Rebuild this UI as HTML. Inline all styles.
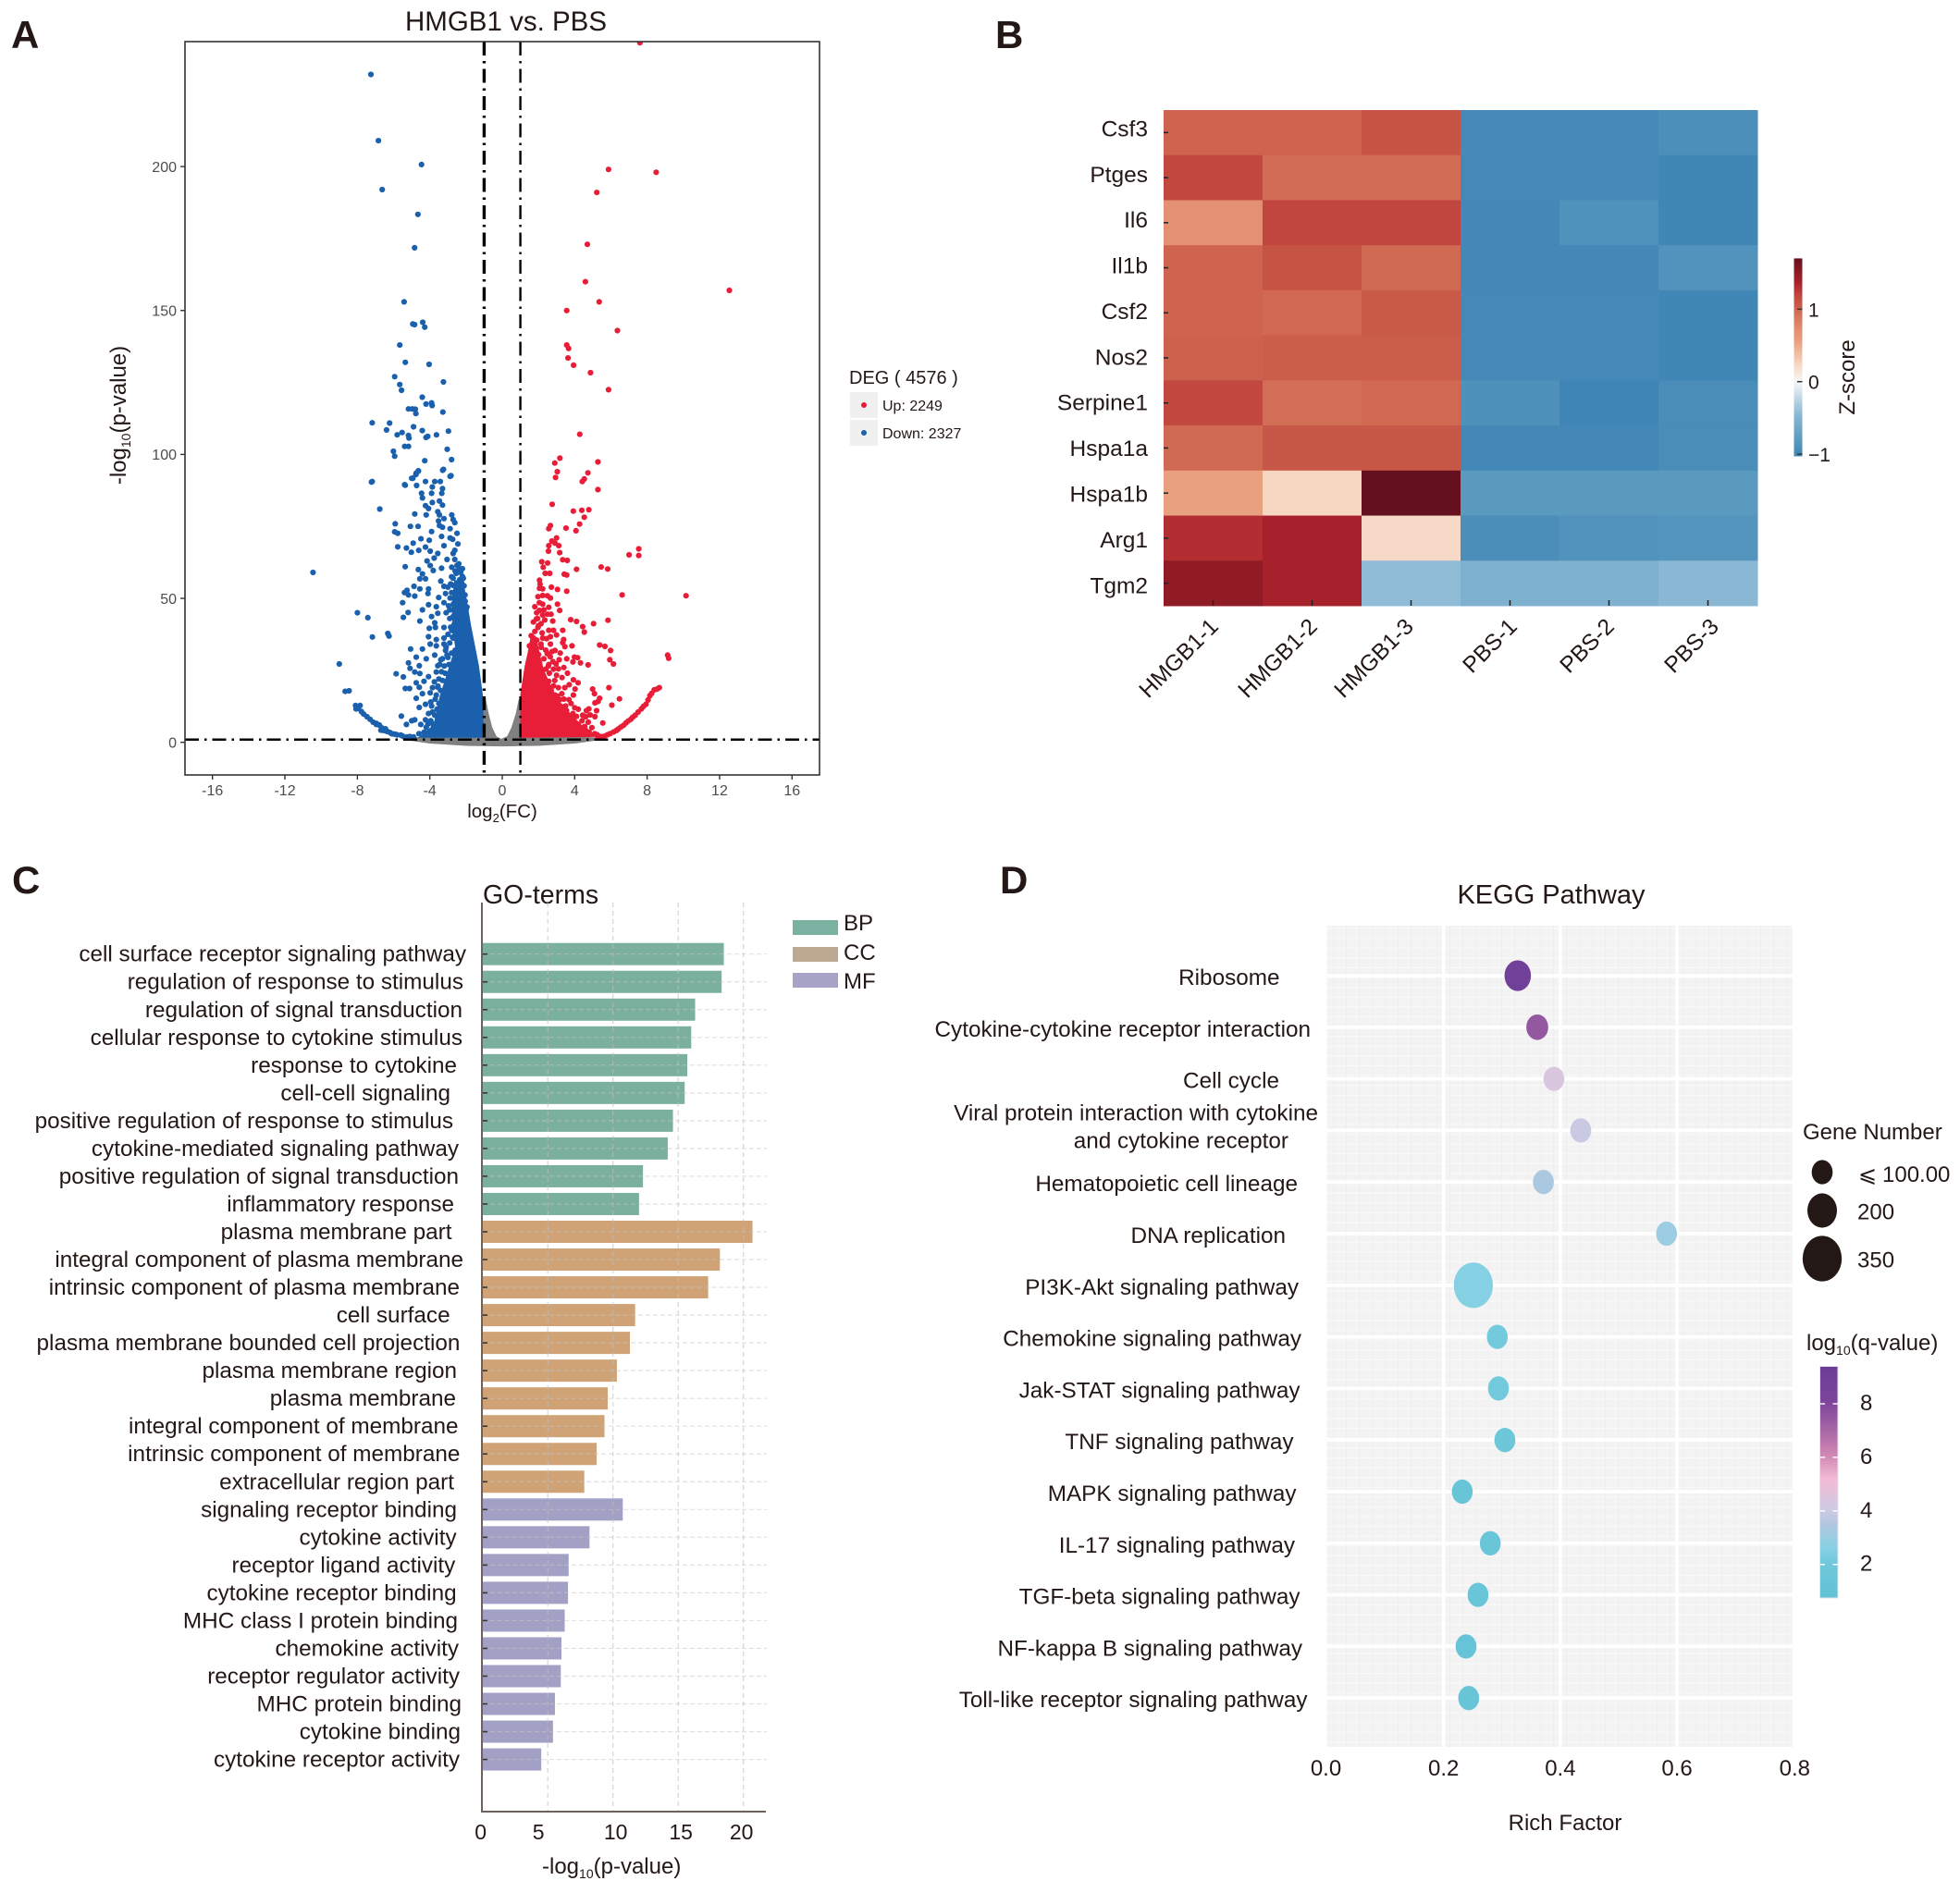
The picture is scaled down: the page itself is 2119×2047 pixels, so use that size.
<!DOCTYPE html>
<html><head><meta charset="utf-8"><title>Four panel figure</title>
<style>
html,body{margin:0;padding:0;background:#fff;width:2119px;height:2047px;overflow:hidden}
svg{display:block}
text{font-family:"Liberation Sans","DejaVu Sans",sans-serif;fill:#231815}
</style></head>
<body>
<svg id="fig" xmlns="http://www.w3.org/2000/svg" width="2119" height="2047" viewBox="0 0 2119 2047">
<defs><clipPath id="volClip"><rect x="200" y="45" width="686" height="793"/></clipPath></defs>
<text x="12" y="52" font-size="42" font-weight="bold">A</text>
<text x="1076" y="52" font-size="42" font-weight="bold">B</text>
<text x="13" y="966" font-size="42" font-weight="bold">C</text>
<text x="1081" y="966" font-size="42" font-weight="bold">D</text>

<g id="panelA">
<text x="547" y="33" font-size="29.5" text-anchor="middle">HMGB1 vs. PBS</text>
<g id="volMarks" clip-path="url(#volClip)"></g>
<rect x="200" y="45" width="686" height="793" fill="none" stroke="#333" stroke-width="1.6"/>
<g id="volAxes"></g>
<text x="543" y="884" font-size="20.5" text-anchor="middle">log<tspan font-size="13" dy="5">2</tspan><tspan dy="-5">(FC)</tspan></text>
<text transform="translate(136,449) rotate(-90)" font-size="24" text-anchor="middle">-log<tspan font-size="14" dy="5">10</tspan><tspan dy="-5">(p-value)</tspan></text>
<text x="918" y="415" font-size="20">DEG ( 4576 )</text>
<rect x="919" y="424" width="30" height="28" fill="#f0f0f0"/>
<rect x="919" y="454" width="30" height="28" fill="#f0f0f0"/>
<circle cx="934" cy="438" r="3" fill="#e81e39"/>
<circle cx="934" cy="468" r="3" fill="#1a60ad"/>
<text x="954" y="444" font-size="16">Up: 2249</text>
<text x="954" y="474" font-size="16">Down: 2327</text>
</g>

<g id="panelB">
<g id="heatCells"></g>
<g id="heatAxes"></g>
<g id="heatBar"></g>
<text transform="translate(2005,408) rotate(-90)" font-size="24" text-anchor="middle">Z-score</text>
</g>

<g id="panelC">
<text x="522" y="977" font-size="28.5">GO-terms</text>
<g id="goBars"></g>
<g id="goGrid"></g>
<g id="goAxes"></g>
<text x="586" y="2026" font-size="24">-log<tspan font-size="14" dy="5">10</tspan><tspan dy="-5">(p-value)</tspan></text>
<rect x="857" y="995" width="49" height="16" fill="#7bb1a0"/>
<rect x="857" y="1024" width="49" height="16" fill="#bda892"/>
<rect x="857" y="1052" width="49" height="16" fill="#a6a3c7"/>
<text x="912" y="1006" font-size="24">BP</text>
<text x="912" y="1038" font-size="24">CC</text>
<text x="912" y="1069" font-size="24">MF</text>
</g>

<g id="panelD">
<text x="1677" y="977" font-size="29" text-anchor="middle">KEGG Pathway</text>
<g id="keggGrid"></g>
<g id="keggMarks"></g>
<g id="keggAxes"></g>
<text x="1692" y="1979" font-size="24" text-anchor="middle">Rich Factor</text>
<text x="1949" y="1232" font-size="24">Gene Number</text>
<g id="keggSize"></g>
<text x="1953" y="1460" font-size="24">log<tspan font-size="14" dy="5">10</tspan><tspan dy="-5">(q-value)</tspan></text>
<g id="keggBar"></g>
</g>
</svg>

<script>
/* ---------- Panel A data: [log2FC, -log10 p] ---------- */
const volXTicks=[-16,-12,-8,-4,0,4,8,12,16];
const volYTicks=[0,50,100,150,200];
const fcThresholds=[-1,1];
const pThreshold=[0.95];
const grayEnvelope=[[-5.5,1.3],[-3,1.9],[-1.15,1.9],[-1.15,14.8],[-0.95,14.6],[-0.8,10],[-0.6,5],[-0.35,1.8],[-0.05,0.9],[0.3,1.8],[0.55,5],[0.8,10],[0.95,14.6],[1.05,14.8],[1.05,1.9],[3,1.9],[5.6,1.3],[4,-0.1],[2,-0.9],[0,-1.1],[-2,-0.9],[-4,-0.1]];
const downEnvelope=[[-1.1,1.9],[-1.09,14.8],[-1.34,26.6],[-1.77,40.5],[-2.03,50.1],[-2.2,56],[-2.6,56],[-2.75,48],[-2.7,40],[-2.55,33],[-3.0,24],[-3.4,16],[-3.75,6],[-4.5,1.9]];
const upEnvelope=[[1.05,1.9],[1.05,16.9],[1.29,26.6],[1.45,31],[1.6,36],[1.85,36],[2.05,30],[2.25,25],[2.75,18],[3.25,13],[3.85,9],[4.45,5.2],[5,2.2]];
const downPoints=[[-7.25,232],[-6.84,209],[-4.46,200.7],[-6.63,192],[-4.66,183.4],[-4.84,171.8],[-5.42,153],[-4.94,145.3],[-4.84,145.1],[-4.39,145.9],[-4.28,144.2],[-5.66,138],[-5.35,132],[-4.04,131.3],[-5.94,127],[-5.66,124.3],[-5.56,122.3],[-3.25,125.2],[-4.42,119.9],[-4.21,117.5],[-3.9,117.9],[-3.87,117],[-5.18,115.8],[-4.97,115.8],[-4.8,115.7],[-4.77,114.2],[-3.28,114.7],[-7.18,111],[-6.22,110.9],[-6.39,108.5],[-4.9,109.6],[-4.42,108.3],[-2.97,108.1],[-3.63,106.8],[-4.21,105.9],[-4.11,106.3],[-5.8,106.8],[-5.53,107.6],[-5.18,106.6],[-5.15,105.7],[-5.39,102.8],[-5.18,102.8],[-6.01,101.1],[-5.94,99.4],[-3.04,101.8],[-2.8,98.2],[-4.28,97.8],[-3.25,94.8],[-4.63,94.3],[-4.77,93],[-2.83,92.6],[-4.94,91.7],[-7.18,90.6],[-5.39,89.5],
[-7.22,90.4],[-6.76,81],[-10.45,59],[-8.0,45],[-7.42,43.3],[-7.17,36.6],[-6.32,37.8],[-6.25,36.9],[-9.0,27.2],[-8.67,17.7],[-8.46,17.9],[-8.1,12.8],[-7.85,12.8],[-8.07,11.6],[-7.78,10.7],[-7.47,8.9],[-7.13,7],[-6.79,6],[-6.54,4.1],[-6.11,3],[-5.6,2.5],[-5.26,1.9],[-5.57,9.1],[-5.29,6.2],[-5.0,7.5],[-4.83,7.8],[-5.86,23.8],[-5.46,22.7],
[-5.36,89.3],[-5.0,91.7],[-4.75,93.5],[-4.63,94.2],[-4.73,89.2],[-4.24,90.6],[-3.73,90.6],[-3.42,90.6],[-3.29,94.5],[-2.88,92.4],[-4.46,86.5],[-4.41,84.9],[-3.9,86.5],[-3.86,88.7],[-3.3,88.1],[-3.34,86.5],[-4.24,82.2],[-4.07,81.2],[-3.86,83.3],[-3.47,83.8],[-3.3,82.4],[-4.83,79.3],[-4.2,79],[-3.56,80.1],[-3.47,79],[-2.79,79],[-2.71,77.4],[-2.62,76.3],[-3.22,77.7],[-3.52,76.9],[-3.47,75.3],[-5.91,75.9],[-5.94,73.1],[-5.77,72.6],[-5.07,75],[-4.65,75],[-3.9,73.2],[-3.3,74.7],[-2.88,74.2],[-2.5,72.6],[-3.35,71.5],[-2.88,71],[-2.74,70.5],[-4.92,69.2],[-4.49,70.7],[-4.03,70.2],[-5.77,67.9],[-5.29,67.5],[-5.02,66],[-4.61,66.7],[-4.24,67.8],[-3.98,66.4],[-3.56,65.6],[-3.76,64],[-3.22,68.3],[-2.45,68.9],[-2.62,66.7],[-2.71,65.6],[-3.05,63.5],[-2.62,63.5],[-4.15,63],[-3.98,61.4],[-3.81,59.7],[-5.36,61],[-4.63,60],[-3.35,60.5],[-2.79,60.8],[-2.37,60.3],[-2.2,60.3],[-2.54,58.7],[-2.71,57],[-2.2,57.6],[-2.45,54.9],[-2.11,54.4],[-4.41,58.5],[-4.55,56.8],[-4.24,56.8],[-3.39,56],[-5.26,52.8],[-4.87,54.2],[-4.55,53.3],[-4.07,53.3],[-5.4,52],[-5.18,51.2],[-4.83,50.8],[-4.1,51.7],[-3.22,54.2],[-3,53.9],[-2.06,51.2],[-3.51,50.3],[-3.13,51.7],[-2.88,50.1],[-5.5,48.5],[-5.2,45.1],[-5.46,43.4],[-4.07,47.8],[-4.41,46],[-3.64,47.1],[-3.22,48.5],[-2.96,47.4],[-4.55,42.1],[-3.9,43.7],[-3.56,44.8],[-2.62,45.8],[-2.71,43.7],[-3.73,41.5],[-4.03,39.6],[-3.69,39.9],[-3.22,39.9],[-2.79,38.9],[-3.22,36.2],[-3.64,35.7],[-4.07,36.7],[-3.98,34.1],[-3.64,33.5],[-3.22,34.1],[-3.13,31.9],[-3.05,30.3],[-2.71,36.2],[-2.45,34.1],[-5.06,32.4],[-4.41,32.4],[-3.73,30.3],[-4.2,29],[-4.75,29.6],[-5.18,27.6],[-5.09,25.7],[-4.58,26.6],[-4.83,24.4],[-4.55,23.9],[-3.39,28.7],[-3.56,26.6],[-3.64,24.4],[-4.07,22.8],[-4.32,21.2],[-4.75,20.7],[-5.35,18.7],[-5.12,18.7],[-4.58,19.1],[-4.41,16.9],[-4.75,15.3],[-3.98,17.2],[-3.56,19.1],[-3.64,16.4],[-4.58,12.1],[-4.24,13.2],[-3.9,12.6],[-4.07,10],[-4.5,6.2],[-4.24,7.8],[-3.73,9.4],[-3.81,6.2],[-4.32,3.5],[-3.9,4.1],[-3.47,6.2],[-6.95,6.2],[-6.35,3.8],[-5.9,2.8],
[-2.1,48],[-2.3,47],[-2.5,49],[-2.7,48],[-2.9,46],[-2.6,51],[-2.4,53],[-2.2,52],[-2.0,46],[-2.8,52],[-2.5,44],[-2.3,43],[-2.9,43],[-3.1,45],[-2.65,41],[-2.85,40],[-3.0,37.5],[-2.6,38],[-2.75,36.5],[-2.9,34.5],[-3.1,33],[-2.6,32],[-2.8,31],[-3.0,29.5],[-3.3,29],[-3.45,27],[-3.2,26.5],[-2.95,27],[-3.15,24],[-3.35,24.5],[-3.5,22],[-3.75,21],[-3.3,21.5],[-3.55,19.5],[-3.85,19],[-3.4,18],[-3.7,15],[-3.95,14],[-3.5,13.5],[-3.25,14.5],[-3.6,11.5],[-3.85,10.5],[-3.35,10],[-3.55,8.5],[-3.95,7.5],[-4.1,6.3],[-3.7,5.5],[-4.05,3],[-4.6,3],[-4.2,5.2],[-3.65,3.2],[-2.25,55.5],[-2.35,56.5],[-2.55,52.5],[-2.7,54.5],[-2.05,49],[-1.95,47],[-2.15,57],[-2.4,62],[-2.6,59.5],[-2.3,59],[-2.5,61.5],[-2.8,57.5],[-2.85,55],
[-7.95,11.8],[-7.65,9.8],[-7.3,8],[-6.95,6.6],[-6.65,5],[-6.4,3.9],[-6.2,3.4],[-6,2.9],[-5.8,2.6],[-5.5,2.2],[-5.1,2],[-4.9,1.9],[-6.7,4.2],[-6.45,4.7]];
const upPoints=[[7.6,243],[5.87,199],[8.5,198],[5.22,191],[4.7,173],[4.59,160],[12.54,157],[5.35,153],[3.56,150],[6.36,143],[3.56,138],[3.66,136.8],[3.63,133.5],[3.94,131],[4.87,128.4],[5.87,122.5],[4.28,107],[3.18,98.7],[2.9,97],[5.28,97.4],[3.04,94],[2.94,92],[4.73,93.6],[4.53,91.5],[4.42,90.6],[5.28,87.8],[2.76,82.7],[3.92,80.3],[4.39,80.6],[4.78,80.8],[4.53,78.2],[4.27,75.8],[4.07,73.5],[3.52,74.4],[2.66,75.3],[2.57,74.2],[3,71],[2.74,69.9],[2.91,69.2],[3.12,68.3],[2.57,68.3],[2.55,66.4],[3.17,65.9],[3.34,63.4],[3.59,63.2],[2.18,62.7],[2.5,62.3],[2.26,60.8],[4.1,60.1],[2.37,58.7],[2.62,58.7],[3.42,58.4],[3.56,58.1],[7.54,67.2],[7,65.1],[7.54,64.9],[5.46,60.9],[5.82,60.2],[6.62,51.2],[10.15,50.9],[2.06,56.3],[2.09,54.9],[2.06,53.5],[2.23,53.3],[2.71,53.9],[3.05,53.1],[3.56,52.5],[1.97,50.6],[2.23,51],[2.49,50.9],[2.66,50.1],[2.23,48],[1.8,47.1],[2.57,46.9],[3.05,48],[3.17,45.8],[2.06,45.8],[2.23,44.2],[2.69,44.5],[1.89,42.9],[1.72,41.8],[2.14,41.2],[2.79,42.1],[3.78,42.6],[4.1,42],[5.04,41.2],[5.84,42.4],[4.44,40.2],[4.53,38.3],[1.97,39.9],[2.57,38.9],[2.83,38.9],[3.34,38.9],[3.39,35.7],[3.34,34.6],[1.72,36.2],[2.23,36.2],[2.66,36.7],[3,37.3],[1.72,34.1],[2.14,34.1],[2.66,34.1],[2.91,31.9],[3.46,33.2],[3.85,33.5],[5.38,33.8],[5.67,33.3],[5.98,31.9],[5.94,28.7],[6.14,27.2],[9.13,30.3],[9.19,29.2],[3.99,29.6],[4.16,29.4],[3.56,29],[3.14,28.7],[2.97,27.2],[3.9,27.9],[4.32,27.6],[4.74,26.9],[2.48,30.8],[2.65,29.7],[2.06,27.6],[2.57,27],[2.4,25.4],[2.83,25.4],[3,23.3],[2.26,23.3],[3.93,21.7],[4.19,20.7],[4.02,18.5],[3.93,16.4],[3.68,14.8],[3.29,16.9],[2.91,16.4],[3.17,14.8],[2.57,21.2],[2.83,19.6],[5.89,19],[4.99,18.5],[5.09,16.9],[5.38,15.3],[5.29,14.2],[5.12,13.7],[6.47,15.1],[6.05,12.9],[4.78,11.6],[5.21,11],[5.12,8.9],[4.44,9.4],[4.61,8.9],[4.95,5.1],[5.55,6.7],[4.61,4.1],[4,12],[3.5,12.6],[3.93,8.4],[4.19,6.2],[3.76,4.1],[8.67,19],[8.39,18.2],[8.15,16.2],[7.93,13.2],[7.68,11.6],[7.34,9.4],[7.1,8],[6.83,6.7],[6.55,5.3],[6.3,4.1],[5.95,3],[5.63,2.1],[5.3,1.8],
[2.3,46],[2.05,48.5],[1.9,45],[2.35,42.5],[2.0,40.5],[1.8,38.5],[2.2,38],[1.6,37],[2.45,36],[1.9,35.5],[2.15,33],[1.5,33.5],[2.4,32],[1.7,31],[2.0,30.5],[2.75,31.5],[3.2,31],[2.3,29],[2.8,28],[1.8,28.5],[2.1,25],[3.1,25.5],[3.4,26],[2.6,24],[2.35,22],[2.9,21.5],[3.3,22.5],[3.6,24],[2.7,18],[3.1,19],[3.45,19],[3.7,20],[3.05,16],[3.4,15],[3.8,13.5],[3.55,11],[4.2,11.5],[4.65,11],[4.85,9.5],[4.1,9],[3.9,10],[4.4,7.5],[4.75,7],[4.55,5.5],[4.8,3.5],[5.1,3],[4.3,4],[5.25,2.6],[2.95,14],[3.25,12.5],[3.75,7],[4.0,5.5],[3.35,10.5],[2.55,26.5],[1.95,43],[2.5,44.5],
[8.55,18.5],[8.25,17],[8.05,14.7],[7.8,12.5],[7.5,10.5],[7.2,8.7],[6.95,7.4],[6.7,5.9],[6.4,4.6],[6.15,3.6],[5.8,2.6],[5.45,2]];

/* ---------- Panel B data ---------- */
const heatGenes=["Csf3","Ptges","Il6","Il1b","Csf2","Nos2","Serpine1","Hspa1a","Hspa1b","Arg1","Tgm2"];
const heatSamples=["HMGB1-1","HMGB1-2","HMGB1-3","PBS-1","PBS-2","PBS-3"];
const heatValues=[
[1.0,1.0,1.09,-0.97,-0.97,-0.92],
[1.18,0.96,0.96,-0.99,-0.99,-1.01],
[0.7,1.19,1.19,-1.0,-0.89,-1.01],
[1.0,1.09,0.97,-1.0,-1.0,-0.88],
[1.0,0.98,1.05,-0.99,-0.99,-1.01],
[1.01,1.03,1.03,-0.99,-0.99,-1.01],
[1.17,0.95,0.98,-0.9,-1.03,-0.94],
[0.97,1.07,1.07,-1.0,-1.0,-0.94],
[0.55,0.25,1.7,-0.8,-0.8,-0.8],
[1.3,1.37,0.22,-0.93,-0.88,-0.85],
[1.5,1.38,-0.43,-0.55,-0.55,-0.47]];
const zTicks=[-1,0,1];
const zStops=[-1.03,-0.8,-0.45,0,0.25,0.55,0.7,0.95,1.05,1.2,1.35,1.5,1.7];
const zColors=["#3f85b5","#5a9abf","#8cb9d5","#f7f7f7","#f6d5c1","#e9a07f","#e39073","#d36e56","#c85a47","#bf453e","#ab222d","#901b25","#64101f"];

/* ---------- Panel C data ---------- */
const goTerms=["cell surface receptor signaling pathway","regulation of response to stimulus","regulation of signal transduction","cellular response to cytokine stimulus","response to cytokine","cell-cell signaling","positive regulation of response to stimulus","cytokine-mediated signaling pathway","positive regulation of signal transduction","inflammatory response","plasma membrane part","integral component of plasma membrane","intrinsic component of plasma membrane","cell surface","plasma membrane bounded cell projection","plasma membrane region","plasma membrane","integral component of membrane","intrinsic component of membrane","extracellular region part","signaling receptor binding","cytokine activity","receptor ligand activity","cytokine receptor binding","MHC class I protein binding","chemokine activity","receptor regulator activity","MHC protein binding","cytokine binding","cytokine receptor activity"];
const goValues=[18.5,18.33,16.3,16.0,15.7,15.5,14.6,14.2,12.3,12.0,20.7,18.2,17.3,11.7,11.3,10.3,9.6,9.35,8.75,7.8,10.75,8.2,6.6,6.55,6.3,6.05,6.0,5.55,5.4,4.5];
const goClasses=["BP","BP","BP","BP","BP","BP","BP","BP","BP","BP","CC","CC","CC","CC","CC","CC","CC","CC","CC","CC","MF","MF","MF","MF","MF","MF","MF","MF","MF","MF"];
const goTicks=[0,5,10,15,20];

/* ---------- Panel D data ---------- */
const keggTerms=["Ribosome","Cytokine-cytokine receptor interaction","Cell cycle","Viral protein interaction with cytokine|and cytokine receptor","Hematopoietic cell lineage","DNA replication","PI3K-Akt signaling pathway","Chemokine signaling pathway","Jak-STAT signaling pathway","TNF signaling pathway","MAPK signaling pathway","IL-17 signaling pathway","TGF-beta signaling pathway","NF-kappa B signaling pathway","Toll-like receptor signaling pathway"];
const keggRich=[0.327,0.3605,0.389,0.435,0.371,0.582,0.251,0.292,0.294,0.305,0.232,0.28,0.259,0.2385,0.243];
const keggGenes=[160,110,100,100,100,100,350,100,100,100,100,100,100,100,100];
const keggQ=[8.9,7.4,4.3,3.9,3.3,3.0,2.5,2.1,2.1,1.7,1.3,1.4,1.4,1.2,1.3];
const keggTicks=[0,0.2,0.4,0.6,0.8];
const sizeLegendValues=[100,200,350];
const qTicks=[2,4,6,8];
const qStops=[0.7,2,2.5,3,3.4,4,5.1,6,7,8,9.3];
const qColors=["#62c2d6","#6fc8da","#85d0e3","#9dcde2","#b0c6e0","#cfcae3","#f3bcd4","#d087b4","#a465a5","#7c459b","#6c3e96"];

/* ---------- helpers ---------- */
const NS="http://www.w3.org/2000/svg";
function mk(tag,attrs,parent,txt){
  const e=document.createElementNS(NS,tag);
  for(const k in attrs)e.setAttribute(k,attrs[k]);
  if(txt!==undefined)e.textContent=txt;
  parent.appendChild(e);
  return e;
}
function hex(c){return [1,3,5].map(i=>parseInt(c.substr(i,2),16));}
function colorAt(stops,colors,v){
  if(v<=stops[0])return colors[0];
  for(let i=1;i<stops.length;i++){
    if(v<=stops[i]){
      const t=(v-stops[i-1])/(stops[i]-stops[i-1]);
      const a=hex(colors[i-1]),b=hex(colors[i]);
      return "rgb("+a.map((x,j)=>Math.round(x+(b[j]-x)*t)).join(",")+")";
    }
  }
  return colors[colors.length-1];
}
function gradient(id,stops,colors){
  const defs=document.querySelector("#fig defs");
  const g=mk("linearGradient",{id:id,x1:0,y1:1,x2:0,y2:0},defs);
  const lo=stops[0],hi=stops[stops.length-1];
  stops.forEach((s,i)=>mk("stop",{offset:(s-lo)/(hi-lo),"stop-color":colors[i]},g));
}
const G=id=>document.getElementById(id);

/* ---------- Panel A ---------- */
(function(){
  const X=v=>543+19.58*v, Y=v=>802.7-3.113*v;
  const m=G("volMarks"),ax=G("volAxes");
  const poly=(arr,fill,name)=>{
    const el=mk("polygon",{points:arr.map(p=>X(p[0]).toFixed(1)+","+Y(p[1]).toFixed(1)).join(" "),fill:fill,stroke:fill,"stroke-width":2},m);
    
    
  };
  poly(grayEnvelope,"#808080","not-significant-mass");
  poly(downEnvelope,"#1a60ad","down-regulated-mass");
  poly(upEnvelope,"#e81e39","up-regulated-mass");
  downPoints.forEach(p=>{
    const el=mk("circle",{cx:X(p[0]).toFixed(1),cy:Y(p[1]).toFixed(1),r:3.1,fill:"#1a60ad"},m);
    
    
  });
  upPoints.forEach(p=>{
    const el=mk("circle",{cx:X(p[0]).toFixed(1),cy:Y(p[1]).toFixed(1),r:3.1,fill:"#e81e39"},m);
    
    
  });
  fcThresholds.forEach((v,i)=>{
    const el=mk("line",{x1:X(v),x2:X(v),y1:45,y2:838,stroke:"#000","stroke-width":i==0?3.4:2.4,"stroke-dasharray":"15 6 2.5 6"},m);
    
    
  });
  pThreshold.forEach(v=>{
    const el=mk("line",{x1:200,x2:886,y1:Y(v),y2:Y(v),stroke:"#000","stroke-width":2.4,"stroke-dasharray":"15 6 2.5 6"},m);
    
    
  });
  volXTicks.forEach(v=>{
    const t=mk("line",{x1:X(v),x2:X(v),y1:838,y2:843,stroke:"#333","stroke-width":1.4},ax);
    
    
    const l=mk("text",{x:X(v),y:860,"font-size":16,"text-anchor":"middle",style:"fill:#4d4d4d"},ax,String(v));
    
    
  });
  volYTicks.forEach(v=>{
    const t=mk("line",{x1:195,x2:200,y1:Y(v),y2:Y(v),stroke:"#333","stroke-width":1.4},ax);
    
    
    const l=mk("text",{x:191,y:Y(v)+5.8,"font-size":16,"text-anchor":"end",style:"fill:#4d4d4d"},ax,String(v));
    
    
  });
})();

/* ---------- Panel B ---------- */
const heatSampleNudgeLayout=[7,7,4,9,7,13];
(function(){
  const x0=1258,y0=119,cw=107,ch=536/heatGenes.length;
  const c=G("heatCells"),a=G("heatAxes"),b=G("heatBar");
  heatValues.forEach((row,r)=>row.forEach((v,k)=>{
    const el=mk("rect",{x:x0+k*cw,y:y0+r*ch,width:cw+0.5,height:ch+0.5,fill:colorAt(zStops,zColors,v)},c);
    
    
  }));
  heatGenes.forEach((g,r)=>{
    const cy=y0+(r+0.5)*ch;
    const t=mk("line",{x1:x0,x2:x0+5,y1:cy,y2:cy,stroke:"#222","stroke-width":1.5},a);
    
    
    const l=mk("text",{x:1241,y:147.4+49.39*r,"font-size":24.5,"text-anchor":"end"},a,g);
    
    
  });
  heatSamples.forEach((s,k)=>{
    const cx=x0+(k+0.5)*cw;
    const t=mk("line",{x1:cx,x2:cx,y1:649,y2:655,stroke:"#222","stroke-width":1.5},a);
    
    
    const l=mk("text",{transform:"translate("+(cx+heatSampleNudgeLayout[k])+",679) rotate(-45)","font-size":24.5,"text-anchor":"end"},a,s);
    
    
  });
  gradient("zGrad",zStops,zColors);
  const Z=v=>412.7-78.4*v;
  const bar=mk("rect",{x:1939.5,y:Z(1.7),width:9,height:Z(-1.03)-Z(1.7),fill:"url(#zGrad)"},b);
  
  
  zTicks.forEach(v=>{
    const t=mk("line",{x1:1943,x2:1948.5,y1:Z(v),y2:Z(v),stroke:"#333","stroke-width":1.5},b);
    
    
    const l=mk("text",{x:1955,y:Z(v)+8,"font-size":21},b,v<0?"\u2212"+Math.abs(v):String(v));
    
    
  });
})();

/* ---------- Panel C ---------- */
const goLabelInsetLayout=[17,20,21,21,27,34,31,25,25,30,32.5,20,24,34.4,23.6,27,28,25.5,23.6,30,27,27.4,28.7,27.4,26,25,24,22,23,24];
const goTickNudgeLayout=[-2,-10,3,3,-2];
(function(){
  const X=v=>521.7+14.1*v, R=i=>1031.7+30.03*i;
  const gr=G("goGrid"),br=G("goBars"),ax=G("goAxes");
  const fills={BP:"#7bb09f",CC:"#cfa376",MF:"#a3a0c6"};
  goTicks.slice(1).forEach(v=>{
    const l=mk("line",{x1:X(v),x2:X(v),y1:976,y2:1958,stroke:"rgba(190,190,190,0.65)","stroke-width":1.2,"stroke-dasharray":"5 4"},gr);
    
    
  });
  goTerms.forEach((term,i)=>{
    const h=mk("line",{x1:522,x2:829,y1:R(i),y2:R(i),stroke:"rgba(200,200,200,0.55)","stroke-width":1.2,"stroke-dasharray":"5 3"},gr);
    
    
    const b=mk("rect",{x:522,y:R(i)-12,width:X(goValues[i])-522,height:24,fill:fills[goClasses[i]]},br);
    
    
    const t=mk("line",{x1:521,x2:527,y1:R(i),y2:R(i),stroke:"#3a3330","stroke-width":1.6},ax);
    
    
    const l=mk("text",{x:521-goLabelInsetLayout[i],y:R(i)+8,"font-size":24.3,"text-anchor":"end"},ax,term);
    
    
  });
  const yAxis=mk("line",{x1:521,x2:521,y1:976,y2:1959,stroke:"#6d625e","stroke-width":2},ax);
  
  
  const xAxis=mk("line",{x1:520,x2:828,y1:1959,y2:1959,stroke:"#6d625e","stroke-width":2},ax);
  
  
  goTicks.forEach((v,i)=>{
    const l=mk("text",{x:X(v)+goTickNudgeLayout[i],y:1989,"font-size":23,"text-anchor":"middle"},ax,String(v));
    
    
  });
})();

/* ---------- Panel D ---------- */
const keggLabelInsetLayout=[51,17.5,51.5,9.5,31.5,44.5,30.5,27.5,29,36,33,34.5,29,26.5,21];
(function(){
  const x0=1434.5,x1=1938,y0=1001,y1=1889;
  const X=v=>x0+631*v, R=i=>1055+55.8*i;
  const gr=G("keggGrid"),mr=G("keggMarks"),ax=G("keggAxes"),sz=G("keggSize"),qb=G("keggBar");
  const bg=mk("rect",{x:x0,y:y0,width:x1-x0,height:y1-y0,fill:"#f3f3f3"},gr);
  
  
  for(let y=y0+3;y<y1;y+=10.6){
    const l=mk("line",{x1:x0,x2:x1,y1:y,y2:y,stroke:"#f9f9f9","stroke-width":1.2},gr);
    
    
  }
  for(let x=x0+7;x<x1;x+=14){
    const l=mk("line",{x1:x,x2:x,y1:y0,y2:y1,stroke:"#ebebeb","stroke-width":0.7},gr);
    
    
  }
  keggTicks.slice(1,4).forEach(v=>{
    const l=mk("line",{x1:X(v),x2:X(v),y1:y0,y2:y1,stroke:"#fff","stroke-width":3.4},gr);
    
    
  });
  keggTerms.forEach((term,i)=>{
    const h=mk("line",{x1:x0,x2:x1,y1:R(i),y2:R(i),stroke:"#fff","stroke-width":3.8},gr);
    
    
    const rx=16*Math.sqrt(keggGenes[i]/200), ry=18.6*Math.sqrt(keggGenes[i]/200);
    const e=mk("ellipse",{cx:X(keggRich[i]),cy:R(i),rx:rx,ry:ry,fill:colorAt(qStops,qColors,keggQ[i])},mr);
    
    
    const end=x0-keggLabelInsetLayout[i];
    const parts=term.split("|");
    if(parts.length==1){
      const l=mk("text",{x:end,y:R(i)+10,"font-size":24.3,"text-anchor":"end"},ax,term);
      
      
    }else{
      const l1=mk("text",{x:end,y:R(i)-11,"font-size":24.3,"text-anchor":"end"},ax,parts[0]);
      
      
      const l2=mk("text",{x:end-32,y:R(i)+19,"font-size":24.3,"text-anchor":"end"},ax,parts[1]);
      
      
    }
  });
  keggTicks.forEach(v=>{
    const l=mk("text",{x:X(v)+(v==0?-1:(v==0.8?1:0)),y:1920,"font-size":24,"text-anchor":"middle"},ax,v.toFixed(1));
    
    
  });
  /* size legend */
  const sizeRowY=[1267.5,1309,1361];
  const sizeTexts=["100.00","200","350"];
  sizeLegendValues.forEach((n,i)=>{
    const e=mk("ellipse",{cx:1970,cy:sizeRowY[i],rx:16*Math.sqrt(n/200),ry:18.6*Math.sqrt(n/200),fill:"#231815"},sz);
    
    
    const l=mk("text",{x:i==0?2035:2008,y:sizeRowY[i]+(i==0?10.5:9.5),"font-size":24},sz,sizeTexts[i]);
    
    
  });
  const le=mk("text",{x:2009,y:1278,"font-size":24},sz,"\u2A7D");
  
  
  /* colourbar */
  gradient("qGrad",qStops,qColors);
  const Q=v=>1691.7-28.95*(v-2);
  const frame=mk("rect",{x:1967.5,y:1477.5,width:19.5,height:250.5,fill:"url(#qGrad)",stroke:"#e6e2f0","stroke-width":1},qb);
  
  
  qTicks.forEach(v=>{
    const a=mk("line",{x1:1968,x2:1973,y1:Q(v),y2:Q(v),stroke:"#fff","stroke-width":1.4},qb);
    
    
    const b=mk("line",{x1:1981.5,x2:1986.5,y1:Q(v),y2:Q(v),stroke:"#fff","stroke-width":1.4},qb);
    
    
    const l=mk("text",{x:2011,y:Q(v)+7,"font-size":24},qb,String(v));
    
    
  });
})();
</script>
</body></html>
